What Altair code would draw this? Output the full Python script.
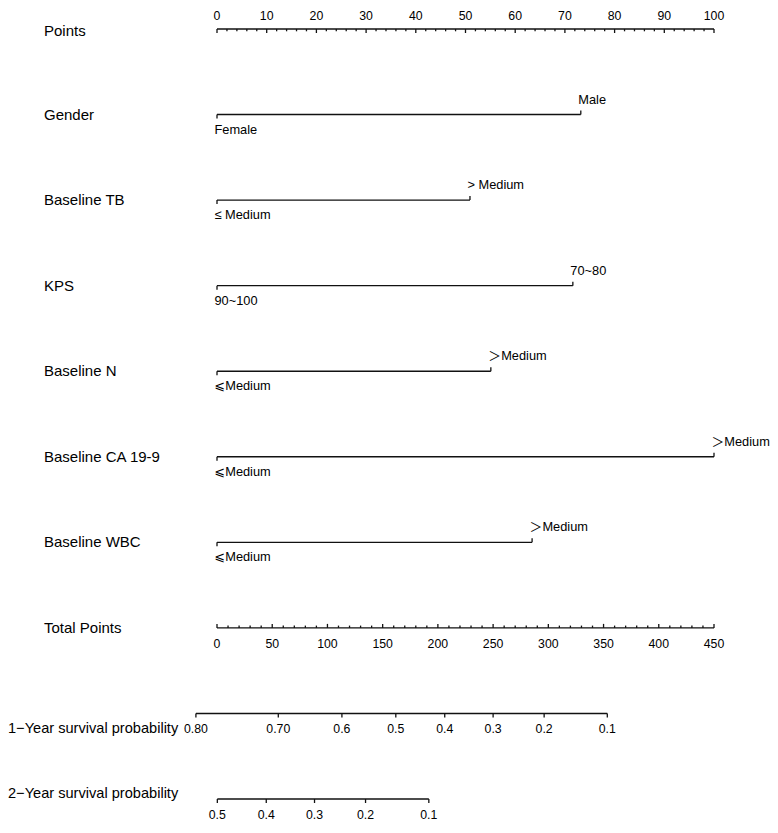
import altair as alt
import pandas as pd

# ---------------- data ----------------
points_ticks = [0, 10, 20, 30, 40, 50, 60, 70, 80, 90, 100]
points_minor = [2, 4, 6, 8, 12, 14, 16, 18, 22, 24, 26, 28, 32, 34, 36, 38, 42, 44, 46, 48,
                52, 54, 56, 58, 62, 64, 66, 68, 72, 74, 76, 78, 82, 84, 86, 88, 92, 94, 96, 98]

var_names = ["Gender", "Baseline TB", "KPS", "Baseline N", "Baseline CA 19-9", "Baseline WBC"]
low_labels = ["Female", "≤ Medium", "90~100", "⩽Medium", "⩽Medium", "⩽Medium"]
high_labels = ["Male", "> Medium", "70~80", "＞Medium", "＞Medium", "＞Medium"]
high_points = [73.2, 50.9, 71.6, 55.1, 100.0, 63.4]

total_ticks = [0, 50, 100, 150, 200, 250, 300, 350, 400, 450]
total_minor = [10, 20, 30, 40, 60, 70, 80, 90, 110, 120, 130, 140, 160, 170, 180, 190,
               210, 220, 230, 240, 260, 270, 280, 290, 310, 320, 330, 340, 360, 370, 380, 390,
               410, 420, 430, 440]

surv1_labels = ["0.80", "0.70", "0.6", "0.5", "0.4", "0.3", "0.2", "0.1"]
surv1_total = [-19.1, 55.5, 113.1, 161.9, 206.2, 250.0, 296.2, 353.4]
surv2_labels = ["0.5", "0.4", "0.3", "0.2", "0.1"]
surv2_total = [0.3, 44.6, 88.3, 134.5, 191.8]

row_titles = ["Points"] + var_names + ["Total Points"]
TOTAL_MAX = 450.0
TP = 100.0 / TOTAL_MAX  # total points -> points scale

# ---------------- tables ----------------
R_POINTS, R_TOTAL, R_S1, R_S2 = 0, 7, 8, 9
var_rows = list(range(1, 7))

segs = pd.DataFrame(
    [dict(x=0.0, x2=100.0, row=R_POINTS)]
    + [dict(x=0.0, x2=hp, row=r) for hp, r in zip(high_points, var_rows)]
    + [dict(x=0.0, x2=TOTAL_MAX * TP, row=R_TOTAL)]
    + [dict(x=min(surv1_total) * TP, x2=max(surv1_total) * TP, row=R_S1)]
    + [dict(x=min(surv2_total) * TP, x2=max(surv2_total) * TP, row=R_S2)]
)

down_major = pd.DataFrame(
    [dict(x=v, row=R_POINTS) for v in points_ticks]
    + [dict(x=0.0, row=r) for r in var_rows]
    + [dict(x=v * TP, row=R_S1) for v in surv1_total]
    + [dict(x=v * TP, row=R_S2) for v in surv2_total]
)
down_minor = pd.DataFrame([dict(x=v, row=R_POINTS) for v in points_minor])
up_major = pd.DataFrame(
    [dict(x=v * TP, row=R_TOTAL) for v in total_ticks]
    + [dict(x=hp, row=r) for hp, r in zip(high_points, var_rows)]
)
up_minor = pd.DataFrame([dict(x=v * TP, row=R_TOTAL) for v in total_minor])

points_lab = pd.DataFrame(dict(x=points_ticks, row=R_POINTS, t=[str(v) for v in points_ticks]))
total_lab = pd.DataFrame(dict(x=[v * TP for v in total_ticks], row=R_TOTAL, t=[str(v) for v in total_ticks]))
surv_lab = pd.DataFrame(
    [dict(x=v * TP, row=R_S1, t=l) for v, l in zip(surv1_total, surv1_labels)]
    + [dict(x=v * TP, row=R_S2, t=l) for v, l in zip(surv2_total, surv2_labels)]
)
low_lab = pd.DataFrame(dict(x=0.0, row=var_rows, t=low_labels))
high_lab = pd.DataFrame(dict(x=high_points, row=var_rows, t=high_labels))
titles = pd.DataFrame(dict(row=list(range(0, 8)), t=row_titles))
titles_pts = titles[titles.row == 0]
titles_rest = titles[titles.row > 0]
s1_title = pd.DataFrame(dict(row=[R_S1], t=["1\u2212Year survival probability"]))
s2_title = pd.DataFrame(dict(row=[R_S2], t=["2\u2212Year survival probability"]))

# ---------------- encodings ----------------
FONT = "Liberation Sans, Arial, DejaVu Sans, Noto Sans CJK SC"
INK = "#111111"
xs = alt.Scale(domain=[0, 100], range=[209, 706], zero=False, nice=False)
ys = alt.Scale(domain=[0, 9], range=[21, 791], zero=False, nice=False)
X = alt.X("x:Q", scale=xs, axis=None)
Y = alt.Y("row:Q", scale=ys, axis=None)

lines = alt.Chart(segs).mark_rule(color=INK, strokeWidth=1.4).encode(
    x=X, x2="x2:Q", y=Y)

def ticks(df, off, w=1.3):
    return alt.Chart(df).mark_rule(color=INK, strokeWidth=w, y2Offset=off).encode(
        x=X, y=Y, y2="row:Q")

t_dmaj = ticks(down_major, 4)
t_dmin = ticks(down_minor, 2.3)
t_umaj = ticks(up_major, -4)
t_umin = ticks(up_minor, -2.3)

def txt(df, **kw):
    base = dict(font=FONT, fontSize=12.3, color="black", baseline="middle")
    base.update(kw)
    return alt.Chart(df).mark_text(**base).encode(x=X, y=Y, text="t:N")

l_points = txt(points_lab, dy=-13, align="center")
l_total = txt(total_lab, dy=16.5, align="center")
l_surv = txt(surv_lab, dy=15.5, align="center")
l_low = txt(low_lab, dy=15, dx=-2.5, align="left", fontSize=12.8)
l_high = txt(high_lab, dy=-15, dx=-2.5, align="left", fontSize=12.8)

def ttl(df, xpix, **kw):
    base = dict(font=FONT, fontSize=15, color="black", baseline="middle", align="left")
    base.update(kw)
    return alt.Chart(df).mark_text(**base).encode(x=alt.value(xpix), y=Y, text="t:N")

t_pts = ttl(titles_pts, 36, dy=2)
t_rest = ttl(titles_rest, 36)
t_s1 = ttl(s1_title, 0, baseline="alphabetic", dy=20, fontSize=14.6)
t_s2 = ttl(s2_title, 0, dy=-5, fontSize=14.6)

chart = alt.layer(
    lines, t_dmaj, t_dmin, t_umaj, t_umin,
    l_points, l_total, l_surv, l_low, l_high,
    t_pts, t_rest, t_s1, t_s2,
).properties(
    width=762, height=812, padding=0, autosize="none", background="white"
).configure_view(stroke=None)

chart.save("out.html", embed_options={"renderer": "svg", "actions": False})
